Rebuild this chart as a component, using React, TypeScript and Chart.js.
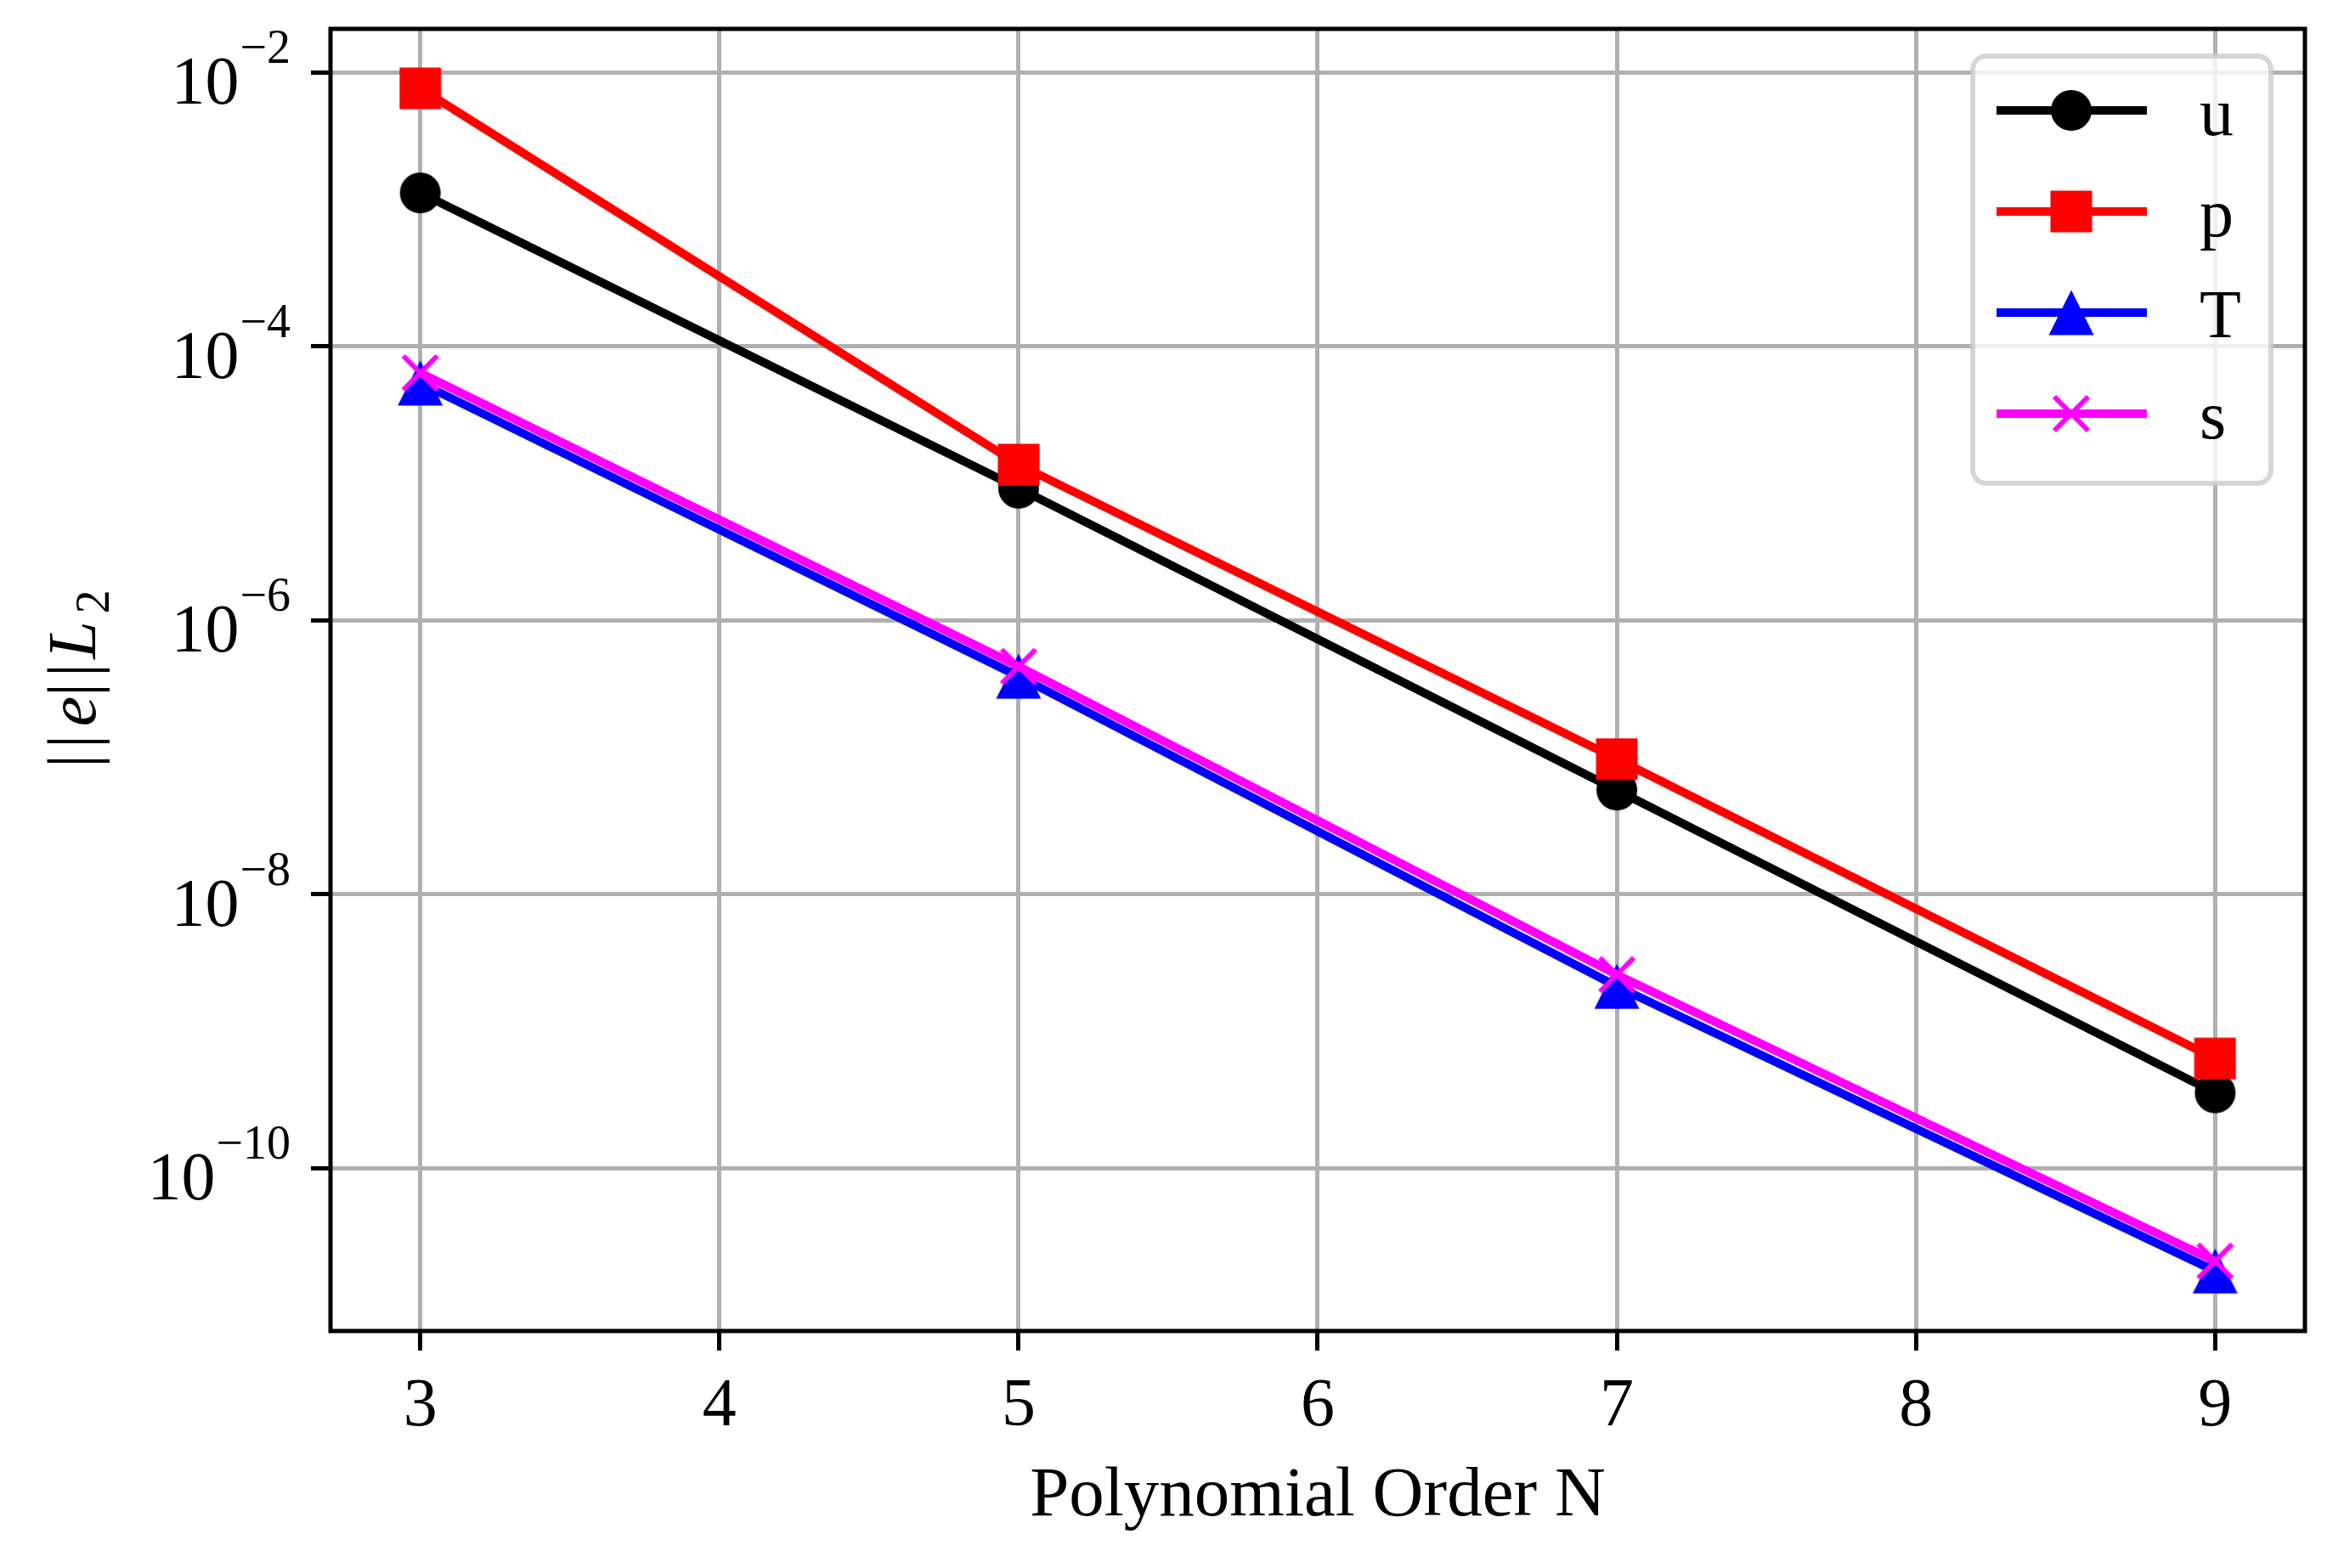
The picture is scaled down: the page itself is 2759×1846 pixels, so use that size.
import React, { useEffect, useRef } from 'react';
import { Chart, registerables } from 'chart.js';

Chart.register(...registerables);

// polynomial order N and the L2 error of each field
const orders = [3, 5, 7, 9];
const uErr = [1.32e-3, 9.2e-6, 5.75e-8, 3.54e-10];
const pErr = [7.65e-3, 1.37e-5, 9.7e-8, 6.3e-10];
const tErr = [5.4e-5, 3.9e-7, 2.12e-9, 1.77e-11];
const sErr = [6.4e-5, 4.6e-7, 2.58e-9, 2.09e-11];

const seriesNames = ['u', 'p', 'T', 's'];
const xTicks = [3, 4, 5, 6, 7, 8, 9];
const yExponents = [-2, -4, -6, -8, -10];

const SERIF = '"Liberation Serif", "Times New Roman", Times, serif';
const W = 2759;
const H = 1846;
const AREA = { left: 389, right: 2713, top: 26, bottom: 1567 };

type Kind = 'circle' | 'square' | 'triangle' | 'x';

function makeMarker(kind: Kind, color: string): HTMLCanvasElement {
    const c = document.createElement('canvas');
    const size = kind === 'triangle' ? 54 : 50;
    c.width = size;
    c.height = size;
    const g = c.getContext('2d')!;
    const m = size / 2;
    g.fillStyle = color;
    g.strokeStyle = color;
    if (kind === 'circle') {
        g.beginPath();
        g.arc(m, m, 24, 0, Math.PI * 2);
        g.fill();
    } else if (kind === 'square') {
        g.fillRect(m - 24.5, m - 24.5, 49, 49);
    } else if (kind === 'triangle') {
        g.beginPath();
        g.moveTo(m, m - 26.5);
        g.lineTo(m + 26.5, m + 26.5);
        g.lineTo(m - 26.5, m + 26.5);
        g.closePath();
        g.fill();
    } else {
        g.lineWidth = 6;
        g.lineCap = 'butt';
        g.beginPath();
        g.moveTo(m - 20, m - 20);
        g.lineTo(m + 20, m + 20);
        g.moveTo(m + 20, m - 20);
        g.lineTo(m - 20, m + 20);
        g.stroke();
    }
    return c;
}

const App: React.FC = () => {
    const canvasRef = useRef<HTMLCanvasElement>(null);
    const chartRef = useRef<Chart | null>(null);

    useEffect(() => {
        if (!canvasRef.current) return;
        const ctx = canvasRef.current.getContext('2d');
        if (!ctx) return;
        if (chartRef.current) chartRef.current.destroy();

        const colors = ['#000000', '#ff0000', '#0000ff', '#ff00ff'];
        const kinds: Kind[] = ['circle', 'square', 'triangle', 'x'];
        const markers = kinds.map((k, i) => makeMarker(k, colors[i]));
        const values = [uErr, pErr, tErr, sErr];

        const decor = {
            id: 'mplDecor',
            afterDatasetsDraw(chart: Chart) {
                const c = chart.ctx;
                const a = chart.chartArea;
                c.save();
                c.strokeStyle = '#000';
                c.lineWidth = 5;
                c.strokeRect(a.left, a.top, a.right - a.left, a.bottom - a.top);
                c.restore();
            },
            afterDraw(chart: Chart) {
                const c = chart.ctx;
                const xs = chart.scales.x;
                const ys = chart.scales.y;
                const a = chart.chartArea;
                c.save();
                c.fillStyle = '#000';
                c.textBaseline = 'alphabetic';

                // x tick labels
                c.font = `80px ${SERIF}`;
                c.textAlign = 'center';
                xTicks.forEach((v) => c.fillText(String(v), xs.getPixelForValue(v), 1678));

                // x axis title
                c.font = `83px ${SERIF}`;
                c.fillText('Polynomial Order N', (a.left + a.right) / 2, 1784);

                // y tick labels 10^e
                c.textAlign = 'left';
                yExponents.forEach((e) => {
                    const y = ys.getPixelForValue(10 ** e);
                    c.font = `80px ${SERIF}`;
                    const w10 = c.measureText('10').width;
                    const sup = '\u2212' + Math.abs(e);
                    c.font = `56px ${SERIF}`;
                    const ws = c.measureText(sup).width;
                    const x0 = 341 - ws - w10;
                    c.font = `80px ${SERIF}`;
                    c.fillText('10', x0, y + 37);
                    c.font = `56px ${SERIF}`;
                    c.fillText(sup, x0 + w10 + 1, y - 11);
                });

                // y axis title ||e||L2, rotated
                c.save();
                c.translate(112, (a.top + a.bottom) / 2);
                c.rotate(-Math.PI / 2);
                const parts = [
                    { t: '|', f: `80px ${SERIF}`, p: -95.5, b: 0 },
                    { t: '|', f: `80px ${SERIF}`, p: -72.5, b: 0 },
                    { t: 'e', f: `italic 80px ${SERIF}`, p: -37, b: 0 },
                    { t: '|', f: `80px ${SERIF}`, p: -11.5, b: 0 },
                    { t: '|', f: `80px ${SERIF}`, p: 11.5, b: 0 },
                    { t: 'L', f: `italic 80px ${SERIF}`, p: 47, b: 0 },
                    { t: '2', f: `56px ${SERIF}`, p: 92, b: 16 },
                ];
                parts.forEach((pt) => {
                    c.font = pt.f;
                    const w = c.measureText(pt.t).width;
                    c.fillText(pt.t, pt.p - w / 2, pt.b);
                });
                c.restore();

                // legend, upper right
                const lx = 2322, ly = 66, lw = 2673 - 2322, lh = 569 - 66;
                c.beginPath();
                c.roundRect(lx, ly, lw, lh, 16);
                c.fillStyle = 'rgba(255,255,255,0.8)';
                c.fill();
                c.lineWidth = 6;
                c.strokeStyle = 'rgba(204,204,204,0.8)';
                c.stroke();
                const rows = [130, 249, 368, 487];
                seriesNames.forEach((name, i) => {
                    const ry = rows[i];
                    c.strokeStyle = colors[i];
                    c.lineWidth = 10;
                    c.lineCap = 'butt';
                    c.beginPath();
                    c.moveTo(2350, ry);
                    c.lineTo(2527, ry);
                    c.stroke();
                    const mk = markers[i];
                    c.drawImage(mk, 2438 - mk.width / 2, ry - mk.height / 2);
                    c.fillStyle = '#000';
                    c.font = `80px ${SERIF}`;
                    c.textAlign = 'left';
                    c.fillText(name, 2589, ry + 29);
                });
                c.restore();
            },
        };

        chartRef.current = new Chart(ctx, {
            type: 'line',
            data: {
                datasets: seriesNames.map((name, i) => ({
                    label: name,
                    data: orders.map((n, j) => ({ x: n, y: values[i][j] })),
                    borderColor: colors[i],
                    backgroundColor: colors[i],
                    borderWidth: 10,
                    pointStyle: markers[i],
                    pointRadius: 24,
                    tension: 0,
                    fill: false,
                    order: 3 - i,
                })),
            },
            options: {
                animation: false,
                responsive: true,
                maintainAspectRatio: false,
                layout: {
                    padding: { left: 0, top: AREA.top, right: W - AREA.right, bottom: 0 },
                },
                plugins: {
                    legend: { display: false },
                    tooltip: { enabled: false },
                },
                scales: {
                    x: {
                        type: 'linear',
                        min: 2.7,
                        max: 9.3,
                        bounds: 'data',
                        afterBuildTicks: (axis: any) => {
                            axis.ticks = xTicks.map((v) => ({ value: v }));
                        },
                        afterFit: (axis: any) => {
                            axis.height = H - AREA.bottom;
                        },
                        ticks: { display: false, autoSkip: false },
                        border: { display: false },
                        grid: {
                            color: '#b0b0b0',
                            lineWidth: 5,
                            drawTicks: true,
                            tickLength: 23,
                            tickColor: '#000',
                            tickWidth: 5,
                        },
                    },
                    y: {
                        type: 'logarithmic',
                        min: 10 ** -11.19,
                        max: 10 ** -1.682,
                        bounds: 'data',
                        afterBuildTicks: (axis: any) => {
                            axis.ticks = yExponents.map((e) => ({ value: 10 ** e }));
                        },
                        afterFit: (axis: any) => {
                            axis.width = AREA.left;
                        },
                        ticks: { display: false, autoSkip: false },
                        border: { display: false },
                        grid: {
                            color: '#b0b0b0',
                            lineWidth: 5,
                            drawTicks: true,
                            tickLength: 23,
                            tickColor: '#000',
                            tickWidth: 5,
                        },
                    },
                },
            },
            plugins: [decor],
        });

        return () => {
            if (chartRef.current) chartRef.current.destroy();
            chartRef.current = null;
        };
    }, []);

    return (
        <div style={{ position: 'absolute', left: 0, top: 0, width: W, height: H, background: '#fff' }}>
            <canvas ref={canvasRef}></canvas>
        </div>
    );
};

export default App;
